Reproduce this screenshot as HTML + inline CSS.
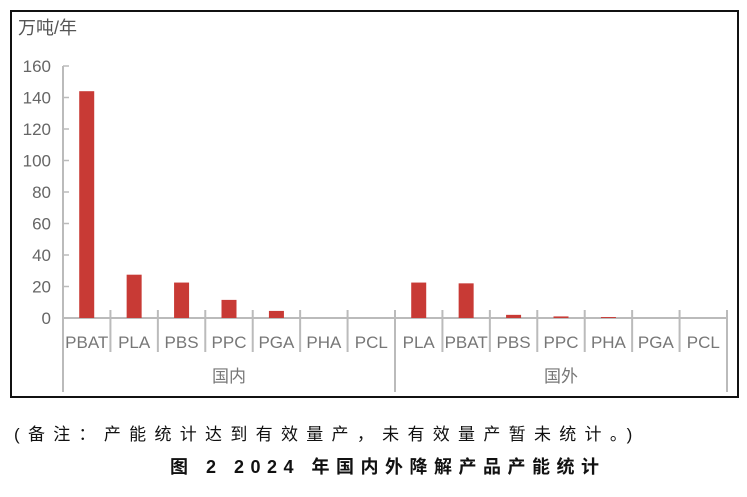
<!DOCTYPE html>
<html><head><meta charset="utf-8"><style>
body{margin:0;width:747px;height:492px;background:#fff;font-family:"Liberation Sans","Noto Sans CJK SC",sans-serif;}
svg text{font-family:"Liberation Sans","Noto Sans CJK SC",sans-serif;}
</style></head><body>
<svg width="747" height="492">
<rect x="11" y="11" width="727" height="386" fill="#fff" stroke="#111" stroke-width="2"/>
<text x="18" y="34" font-size="18" fill="#555">万吨/年</text>
<g id="g"></g>
<text x="14" y="440" font-size="17" fill="#111" letter-spacing="8.3">(备注：产能统计达到有效量产，未有效量产暂未统计。)</text>
<text x="170" y="473" font-size="18" fill="#111" letter-spacing="6.5" font-weight="bold">图 2 2024 年国内外降解产品产能统计</text>
</svg>
<script>
const categories=["PBAT","PLA","PBS","PPC","PGA","PHA","PCL","PLA","PBAT","PBS","PPC","PHA","PGA","PCL"];
const values=[144,27.5,22.5,11.5,4.5,0,0,22.5,22,2,1,0.6,0,0];
const groups=["国内","国外"];
const yTicks=[0,20,40,60,80,100,120,140,160];
const NS="http://www.w3.org/2000/svg",g=document.getElementById('g');
const x0=63,x1=727,y0=318,yTop=66,yMax=160;
const slot=(x1-x0)/categories.length;
const y=v=>y0-(v/yMax)*(y0-yTop);
function mk(t,a,txt){const e=document.createElementNS(NS,t);for(const k in a)e.setAttribute(k,a[k]);if(txt!==undefined)e.textContent=txt;g.appendChild(e);return e;}
const ax=mk('line',{x1:x0,y1:yTop,x2:x0,y2:392,stroke:'#bbb','stroke-width':2});


yTicks.forEach(t=>{
 const l=mk('line',{x1:x0,y1:y(t),x2:x0+6,y2:y(t),stroke:'#bbb','stroke-width':1.5});
 
 
 const tx=mk('text',{x:x0-12,y:y(t)+6,'font-size':17,fill:'#666','text-anchor':'end'},t);
 
 
});
const xa=mk('line',{x1:x0,y1:y0,x2:x1,y2:y0,stroke:'#bbb','stroke-width':2});


categories.forEach((c,i)=>{
 const cx=x0+slot*(i+0.5);
 const b=mk('rect',{x:cx-7.5,y:y(values[i]),width:15,height:y0-y(values[i]),fill:'#c83a35'});
 
 
 const tx=mk('text',{x:cx,y:348,'font-size':17,fill:'#777','text-anchor':'middle'},c);
 
 
 const xd=x0+slot*(i+1);
 const big=(i+1)%7===0;
 const d=mk('line',{x1:xd,y1:y0-8,x2:xd,y2:big?392:352,stroke:'#bbb','stroke-width':2});
 
 
});
groups.forEach((gname,i)=>{
 const tx=mk('text',{x:x0+slot*7*(i+0.5),y:382,'font-size':17,fill:'#777','text-anchor':'middle'},gname);
 
 
});
</script>
</body></html>
